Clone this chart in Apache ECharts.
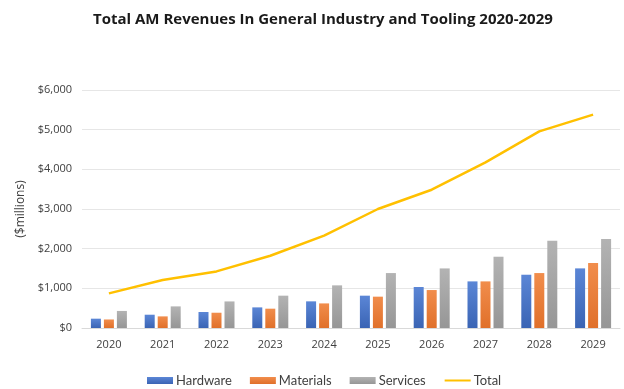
<!DOCTYPE html>
<html>
<head>
<meta charset="utf-8">
<script src="https://cdn.jsdelivr.net/npm/echarts@6/dist/echarts.min.js"></script>
<style>
  html, body { margin: 0; padding: 0; background: #fff; }
  #chart { width: 624px; height: 389px; }
</style>
</head>
<body>
<div id="chart"></div>
<script>
// Revenue by year, $ millions
const years = ['2020', '2021', '2022', '2023', '2024', '2025', '2026', '2027', '2028', '2029'];
const hardware  = [235, 335, 403, 520, 672, 815, 1033, 1175, 1343, 1503];
const materials = [215, 293, 385, 487, 620, 790, 957, 1175, 1385, 1638];
const services  = [430, 545, 670, 815, 1075, 1385, 1502, 1797, 2200, 2243];
const total     = [872, 1210, 1427, 1822, 2330, 3000, 3486, 4175, 4957, 5378];

const font = 'Open Sans, Lato, sans-serif';
const legendFont = 'Lato, Open Sans, sans-serif';

function grad(top, bottom) {
  return new echarts.graphic.LinearGradient(0, 0, 0, 1, [
    { offset: 0, color: top },
    { offset: 1, color: bottom }
  ]);
}

const chart = echarts.init(document.getElementById('chart'));
chart.setOption({
  animation: false,
  title: {
    text: 'Total AM Revenues In General Industry and Tooling 2020-2029',
    left: 88,
    top: 7,
    textStyle: { fontFamily: font, fontSize: 15, fontWeight: 'bold', color: '#1a1a1a' }
  },
  legend: {
    top: 369,
    left: 142,
    itemWidth: 26,
    itemHeight: 7,
    itemGap: 18,
    textStyle: { fontFamily: legendFont, fontSize: 13, color: '#404040', padding: [0, 0, 0, -2] },
    data: [
      { name: 'Hardware', icon: 'rect' },
      { name: 'Materials', icon: 'rect' },
      { name: 'Services', icon: 'rect' },
      { name: 'Total', itemStyle: { opacity: 0 } }
    ]
  },
  grid: { left: 82, right: 4, top: 90, bottom: 61 },
  xAxis: {
    type: 'category',
    data: years,
    axisLine: { show: true, lineStyle: { color: '#d9d9d9' } },
    axisTick: { show: false },
    axisLabel: { fontFamily: font, fontSize: 11, color: '#404040', margin: 11 }
  },
  yAxis: {
    type: 'value',
    min: 0,
    max: 6000,
    interval: 1000,
    name: '($millions)',
    nameLocation: 'middle',
    nameGap: 52,
    nameRotate: 90,
    nameTextStyle: { fontFamily: font, fontSize: 12, color: '#404040' },
    axisLine: { show: false },
    axisTick: { show: false },
    splitLine: { lineStyle: { color: '#e6e6e6' } },
    axisLabel: {
      fontFamily: font, fontSize: 11, color: '#404040', margin: 10,
      formatter: v => '$' + v.toLocaleString('en-US')
    }
  },
  series: [
    {
      name: 'Hardware', type: 'bar', data: hardware,
      barWidth: 10, barGap: '30%',
      itemStyle: { color: grad('#5b86d6', '#3a64b4') }
    },
    {
      name: 'Materials', type: 'bar', data: materials,
      barWidth: 10, barGap: '30%',
      itemStyle: { color: grad('#f18d4c', '#e0702a') }
    },
    {
      name: 'Services', type: 'bar', data: services,
      barWidth: 10, barGap: '30%',
      itemStyle: { color: grad('#b3b3b3', '#969696') }
    },
    {
      name: 'Total', type: 'line', data: total,
      symbol: 'none',
      lineStyle: { color: '#ffc000', width: 2.5 },
      itemStyle: { color: '#ffc000' }
    }
  ]
});
</script>
</body>
</html>
